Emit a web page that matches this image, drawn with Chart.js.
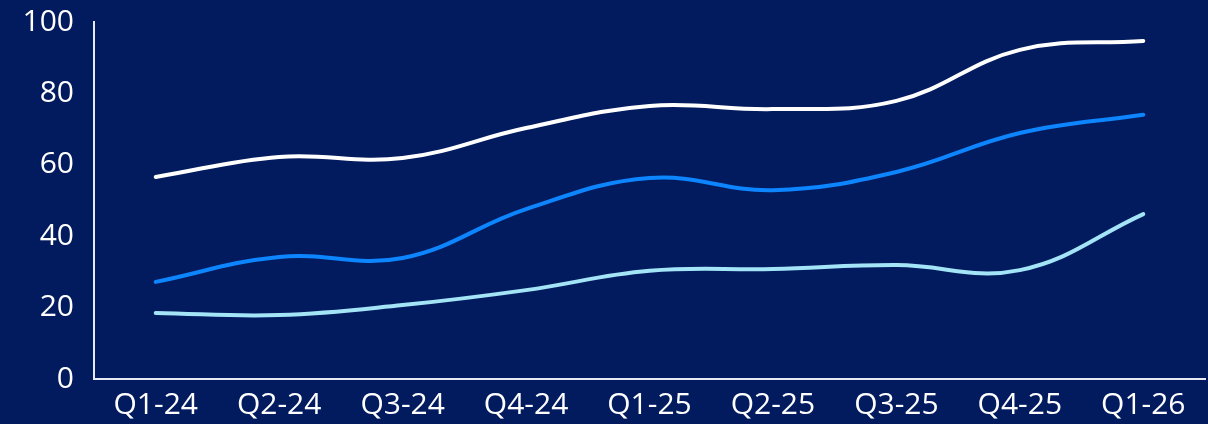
<!DOCTYPE html>
<html>
<head>
<meta charset="utf-8">
<script src="https://cdn.jsdelivr.net/npm/chart.js@4/dist/chart.umd.min.js"></script>
<style>
    html, body { margin: 0; padding: 0; background: #021b5f; }
    #wrap { width: 1208px; height: 424px; position: relative; }
</style>
</head>
<body>
<div id="wrap"><canvas id="myChart"></canvas></div>
<script>
const quarters = ['Q1-24', 'Q2-24', 'Q3-24', 'Q4-24', 'Q1-25', 'Q2-25', 'Q3-25', 'Q4-25', 'Q1-26'];
const whiteSeries = [56.6, 62.2, 61.9, 70.3, 76.5, 75.6, 77.9, 92.2, 94.7];
const blueSeries = [27.2, 34.2, 33.9, 47.6, 56.3, 52.9, 58.0, 68.9, 74.0];
const lightSeries = [18.5, 17.9, 20.7, 24.9, 30.3, 30.8, 31.9, 30.5, 46.2];
const yTicks = [0, 20, 40, 60, 80, 100];

const ctx = document.getElementById('myChart').getContext('2d');
const textColor = '#ffffff';
const axisColor = '#e6e9f2';

function series(data, color) {
    return {
        data: data,
        borderColor: color,
        borderWidth: 4,
        tension: 0.4,
        pointRadius: 0,
        borderCapStyle: 'round',
        fill: false
    };
}

new Chart(ctx, {
    type: 'line',
    data: {
        labels: quarters,
        datasets: [
            series(whiteSeries, '#ffffff'),
            series(blueSeries, '#0d85ff'),
            series(lightSeries, '#a3e4f7')
        ]
    },
    options: {
        responsive: true,
        maintainAspectRatio: false,
        animation: false,
        layout: { padding: { top: 22, right: 3, left: 0, bottom: -7 } },
        plugins: { legend: { display: false }, tooltip: { enabled: false } },
        scales: {
            x: {
                offset: true,
                grid: { display: false, drawTicks: false },
                border: { color: axisColor, width: 2 },
                ticks: {
                    color: textColor,
                    padding: 8,
                    maxRotation: 0,
                    font: { family: 'Open Sans', size: 30 }
                }
            },
            y: {
                min: 0,
                max: 100,
                afterFit: (scale) => {
                    scale.width = 94;
                    scale.paddingTop = 0;
                    scale.paddingBottom = 0;
                },
                afterBuildTicks: (scale) => { scale.ticks = yTicks.map(v => ({ value: v })); },
                grid: { display: false, drawTicks: false },
                border: { color: axisColor, width: 2 },
                ticks: {
                    color: textColor,
                    padding: 20,
                    font: { family: 'Open Sans', size: 30 }
                }
            }
        }
    }
});
</script>
</body>
</html>
